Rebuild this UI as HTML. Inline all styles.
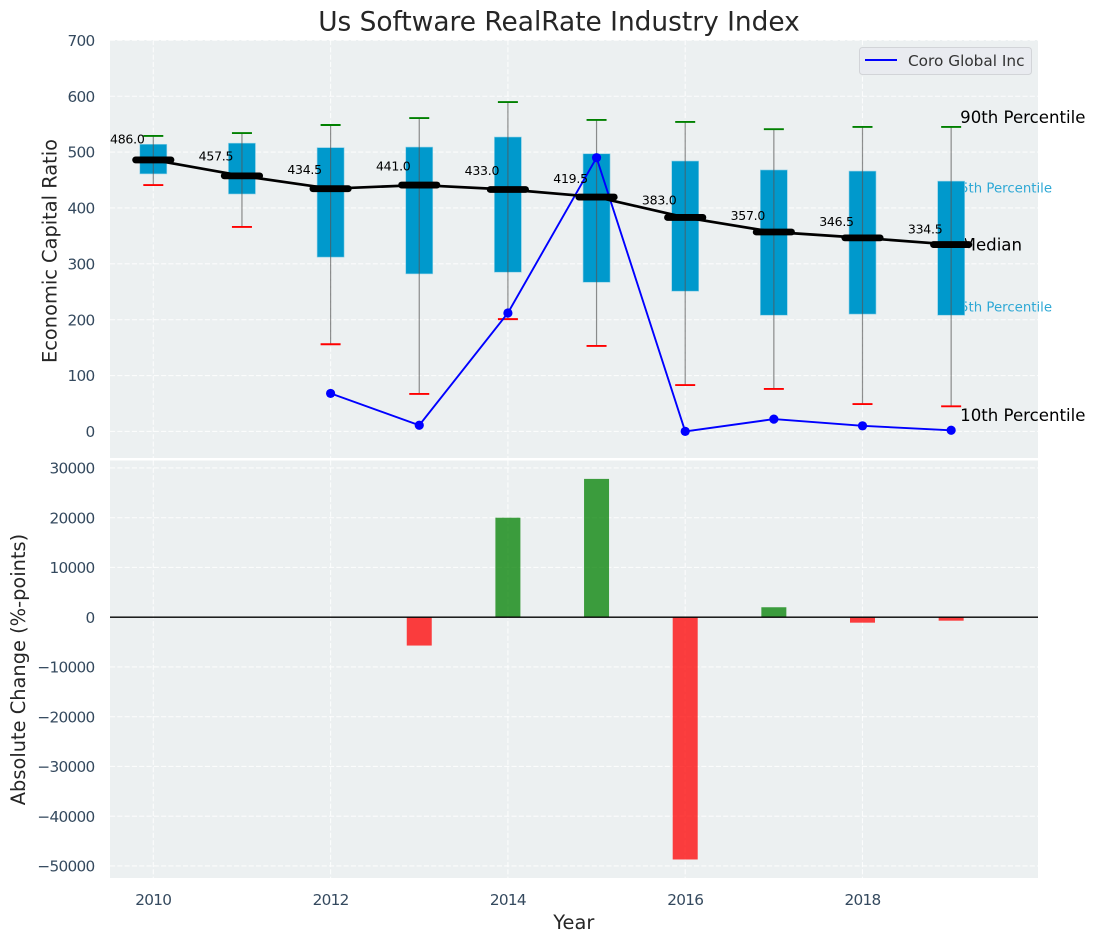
<!DOCTYPE html>
<html lang="en">
<head>
<meta charset="utf-8">
<title>Us Software RealRate Industry Index</title>
<style>
html,body{margin:0;padding:0;background:#fff;width:1095px;height:942px;overflow:hidden}
svg{display:block;font-family:"DejaVu Sans","Liberation Sans",sans-serif}
</style>
</head>
<body>
<svg id="chart" xmlns="http://www.w3.org/2000/svg" width="1095" height="942" viewBox="0 0 1095 942"></svg>
<script>
const years = [2010, 2011, 2012, 2013, 2014, 2015, 2016, 2017, 2018, 2019];
const p90 = [529, 534, 548.5, 561, 589.5, 557.5, 554, 541, 545, 545];
const p75 = [514, 516, 508, 509, 527, 497, 484, 468, 466, 448];
const medians = [486.0, 457.5, 434.5, 441.0, 433.0, 419.5, 383.0, 357.0, 346.5, 334.5];
const p25 = [461, 425, 312, 282, 285, 267, 251, 208, 210, 208];
const p10 = [441, 366, 156, 67, 201, 153, 83, 76, 49, 45];
const companyYears = [2012, 2013, 2014, 2015, 2016, 2017, 2018, 2019];
const companyValues = [68, 11, 212, 490, 0, 22, 10, 2];
const changeYears = [2013, 2014, 2015, 2016, 2017, 2018, 2019];
const changeValues = [-5700, 20000, 27800, -48700, 2000, -1100, -700];
const xTicks = [2010, 2012, 2014, 2016, 2018];
const topTicks = [0, 100, 200, 300, 400, 500, 600, 700];
const bottomTicks = [-50000, -40000, -30000, -20000, -10000, 0, 10000, 20000, 30000];

const NS = 'http://www.w3.org/2000/svg';
const svg = document.getElementById('chart');
const xScale = v => 153.3 + (v - 2010) * 88.65;
const yTop = v => 431.4 - v * 0.5586;
const yBottom = v => 617.2 - v * 0.004975;
const PLOT_LEFT = 110, PLOT_RIGHT = 1038;
const TOP_Y0 = 40, TOP_Y1 = 458, BOT_Y0 = 460.5, BOT_Y1 = 878;
const LABEL_LIFT = 1.06;

function make(tag, attrs, text) {
  const el = document.createElementNS(NS, tag);
  for (const k in attrs) el.setAttribute(k, attrs[k]);
  if (text !== undefined) el.textContent = text;
  svg.appendChild(el);
  return el;
}
function fmt(v) { return v < 0 ? '\u2212' + Math.abs(v) : String(v); }
let el;

// panels
el = make('rect', {x: PLOT_LEFT, y: TOP_Y0, width: PLOT_RIGHT - PLOT_LEFT, height: TOP_Y1 - TOP_Y0, fill: '#ecf0f1'});


el = make('rect', {x: PLOT_LEFT, y: BOT_Y0, width: PLOT_RIGHT - PLOT_LEFT, height: BOT_Y1 - BOT_Y0, fill: '#ecf0f1'});



// grid
const gridStyle = {stroke: '#fff', 'stroke-width': 1.1, 'stroke-dasharray': '5.1 2.2', opacity: 0.8};
const tickStyle = {'font-size': 15.3, 'letter-spacing': -0.73, fill: '#34495e'};
xTicks.forEach(t => {
  el = make('line', {x1: xScale(t), x2: xScale(t), y1: TOP_Y0, y2: TOP_Y1, ...gridStyle});
  
  
  el = make('line', {x1: xScale(t), x2: xScale(t), y1: BOT_Y0, y2: BOT_Y1, ...gridStyle});
  
  
  el = make('text', {x: xScale(t), y: 904.8, 'text-anchor': 'middle', ...tickStyle}, String(t));
  
  
});
topTicks.forEach(t => {
  el = make('line', {x1: PLOT_LEFT, x2: PLOT_RIGHT, y1: yTop(t), y2: yTop(t), ...gridStyle});
  
  
  el = make('text', {x: 94.5, y: yTop(t) + 5.6, 'text-anchor': 'end', ...tickStyle}, String(t));
  
  
});
bottomTicks.forEach(t => {
  el = make('line', {x1: PLOT_LEFT, x2: PLOT_RIGHT, y1: yBottom(t), y2: yBottom(t), ...gridStyle});
  
  
  el = make('text', {x: 94.5, y: yBottom(t) + 5.6, 'text-anchor': 'end', ...tickStyle}, fmt(t));
  
  
});

// percentile annotations (drawn under the boxes, as in the reference)
const lastX = xScale(years[years.length - 1]);
el = make('text', {x: lastX + 9, y: 123, 'font-size': 16.6, fill: '#000'}, '90th Percentile');


el = make('text', {x: lastX + 9, y: 421, 'font-size': 16.6, fill: '#000'}, '10th Percentile');


el = make('text', {x: lastX + 10.5, y: 250.3, 'font-size': 16.6, fill: '#000'}, 'Median');


el = make('text', {x: lastX + 0.5, y: 192.5, 'font-size': 13.3, fill: '#2ea8d5'}, '75th Percentile');


el = make('text', {x: lastX + 0.5, y: 311.5, 'font-size': 13.3, fill: '#2ea8d5'}, '25th Percentile');



// boxes
years.forEach((yr, i) => {
  el = make('rect', {x: xScale(yr) - 13.5, y: yTop(p75[i]), width: 27, height: yTop(p25[i]) - yTop(p75[i]), fill: '#0099cc', stroke: '#8fd0e6', 'stroke-width': 0.6});
  
  
});

// whiskers and caps
years.forEach((yr, i) => {
  const x = xScale(yr);
  el = make('line', {x1: x, x2: x, y1: yTop(p90[i]), y2: yTop(p10[i]), stroke: '#555', 'stroke-opacity': 0.65, 'stroke-width': 1.2});
  
  
  el = make('line', {x1: x - 10, x2: x + 10, y1: yTop(p90[i]), y2: yTop(p90[i]), stroke: '#008000', 'stroke-width': 1.9});
  
  
  el = make('line', {x1: x - 10, x2: x + 10, y1: yTop(p10[i]), y2: yTop(p10[i]), stroke: '#ff0000', 'stroke-width': 1.9});
  
  
});

// company series
el = make('polyline', {points: companyYears.map((y, i) => xScale(y) + ',' + yTop(companyValues[i])).join(' '), fill: 'none', stroke: '#0000ff', 'stroke-width': 1.9});


companyYears.forEach((y, i) => {
  el = make('circle', {cx: xScale(y), cy: yTop(companyValues[i]), r: 4.6, fill: '#0000ff'});
  
  
});

// median line
el = make('polyline', {points: years.map((y, i) => xScale(y) + ',' + yTop(medians[i])).join(' '), fill: 'none', stroke: '#000', 'stroke-width': 2.7});


years.forEach((yr, i) => {
  const x = xScale(yr), y = yTop(medians[i]);
  el = make('line', {x1: x - 17.7, x2: x + 17.7, y1: y, y2: y, stroke: '#000', 'stroke-width': 6.8, 'stroke-linecap': 'round'});
  
  
  el = make('text', {x: x - 26, y: yTop(medians[i] * LABEL_LIFT), 'text-anchor': 'middle', 'font-size': 12.5, 'letter-spacing': -0.25, fill: '#000'}, medians[i].toFixed(1));
  
  
});

// change bars
changeYears.forEach((yr, i) => {
  const v = changeValues[i];
  const y0 = yBottom(Math.max(v, 0)), y1 = yBottom(Math.min(v, 0));
  el = make('rect', {x: xScale(yr) - 12.5, y: y0, width: 25, height: y1 - y0, fill: v >= 0 ? '#008000' : '#ff0000', 'fill-opacity': 0.75});
  
  
});
el = make('line', {x1: PLOT_LEFT, x2: PLOT_RIGHT, y1: yBottom(0), y2: yBottom(0), stroke: '#000', 'stroke-width': 1.3});



// legend
el = make('rect', {x: 859.5, y: 47.5, width: 172, height: 27, rx: 3, fill: '#e9ebf0', stroke: '#d2d4d8', 'stroke-width': 1});


el = make('line', {x1: 865, x2: 897, y1: 60, y2: 60, stroke: '#0000ff', 'stroke-width': 1.9});


el = make('text', {x: 908, y: 66, 'font-size': 15.3, fill: '#333'}, 'Coro Global Inc');



// titles
el = make('text', {x: 559, y: 30.3, 'text-anchor': 'middle', 'font-size': 26.4, fill: '#262626'}, 'Us Software RealRate Industry Index');


el = make('text', {x: 573.8, y: 929, 'text-anchor': 'middle', 'font-size': 19.4, fill: '#262626'}, 'Year');


el = make('text', {transform: 'translate(56.5,251) rotate(-90)', 'text-anchor': 'middle', 'font-size': 19.4, fill: '#262626'}, 'Economic Capital Ratio');


el = make('text', {transform: 'translate(24.8,669.5) rotate(-90)', 'text-anchor': 'middle', 'font-size': 19.4, fill: '#262626'}, 'Absolute Change (%-points)');


</script>
</body>
</html>
